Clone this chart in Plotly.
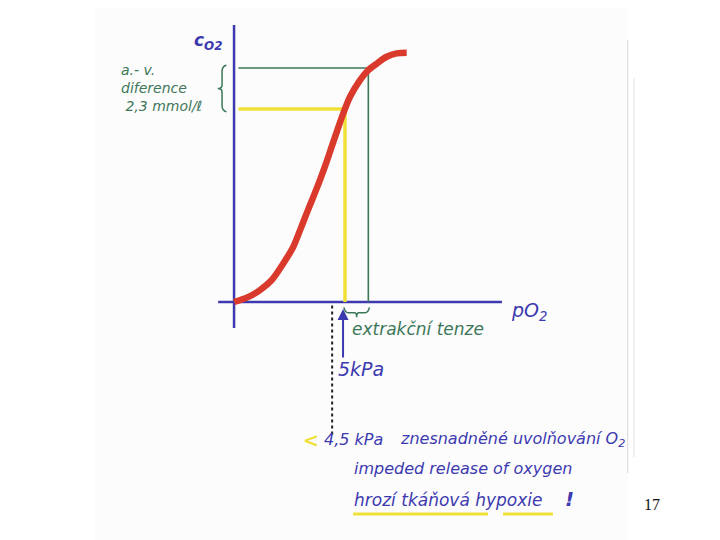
import plotly.graph_objects as go

# --- data (pO2 in kPa, cO2 in mmol/l) ---
curve_po2 = [0.0, 0.66, 1.19, 1.73, 2.26, 2.72, 3.03, 3.33, 3.64, 3.94, 4.22, 4.48, 4.74,
             5.01, 5.32, 5.78, 6.16, 6.55, 7.0, 7.46, 7.92]
curve_c = [0.0, 0.29, 0.67, 1.24, 2.17, 3.11, 4.04, 4.98, 5.92, 6.85, 7.79, 8.73, 9.66,
           10.6, 11.53, 12.47, 13.03, 13.4, 13.78, 13.97, 14.0]

po2_arterial = 6.16
po2_venous = 5.09
po2_limit = 4.5
po2_marker = 5.0
c_arterial = 13.15
c_venous = 10.84

BLUE = "#3d3ab0"
GREEN = "#3c7759"
RED = "#d93a2c"
YELLOW = "#f0e13a"
HAND = "DejaVu Sans"

fig = go.Figure()

# faint scanned page
fig.add_shape(type="rect", xref="x", yref="y", x0=-6.38, x1=18.04, y0=-14, y1=17,
              fillcolor="#fcfcfc", line=dict(width=0), layer="below")

# axes drawn by hand
fig.add_trace(go.Scatter(x=[0, 0], y=[-1.46, 15.56], mode="lines",
                         line=dict(color=BLUE, width=2.5), hoverinfo="skip"))
fig.add_trace(go.Scatter(x=[-0.73, 12.29], y=[0, 0], mode="lines",
                         line=dict(color=BLUE, width=2.5), hoverinfo="skip"))

# green (arterial) lines
fig.add_trace(go.Scatter(x=[0.2, po2_arterial, po2_arterial], y=[c_arterial, c_arterial, 0],
                         mode="lines", line=dict(color=GREEN, width=1.6), hoverinfo="skip"))
# yellow (venous) lines
fig.add_trace(go.Scatter(x=[0.2, po2_venous, po2_venous], y=[c_venous, c_venous, 0],
                         mode="lines", line=dict(color=YELLOW, width=3.5), hoverinfo="skip"))

# dissociation curve
fig.add_trace(go.Scatter(x=curve_po2, y=curve_c, mode="lines",
                         line=dict(color=RED, width=6.5, shape="spline", smoothing=0.8),
                         hoverinfo="skip"))

# dotted threshold line
fig.add_trace(go.Scatter(x=[po2_limit, po2_limit], y=[-0.2, -7.6], mode="lines",
                         line=dict(color="#222222", width=2, dash="dot"), hoverinfo="skip"))

# brace under x axis between venous and arterial pO2
xm = (po2_venous + po2_arterial) / 2
fig.add_shape(type="path", xref="x", yref="y",
              path=(f"M {po2_venous - 0.05},-0.3 Q {po2_venous},-0.6 {po2_venous + 0.15},-0.6 "
                    f"L {xm - 0.1},-0.6 Q {xm},-0.6 {xm},-0.85 Q {xm},-0.6 {xm + 0.1},-0.6 "
                    f"L {po2_arterial - 0.15},-0.6 Q {po2_arterial},-0.6 {po2_arterial + 0.05},-0.3"),
              line=dict(color=GREEN, width=1.5))

# brace left of y axis (a.-v. difference)
ym = (c_arterial + c_venous) / 2
fig.add_shape(type="path", xref="x", yref="y",
              path=(f"M -0.35,{c_arterial + 0.15} Q -0.55,{c_arterial + 0.1} -0.55,{c_arterial - 0.2} "
                    f"L -0.55,{ym + 0.2} Q -0.55,{ym} -0.75,{ym} Q -0.55,{ym} -0.55,{ym - 0.2} "
                    f"L -0.55,{c_venous + 0.2} Q -0.55,{c_venous - 0.1} -0.35,{c_venous - 0.15}"),
              line=dict(color=GREEN, width=1.5))

# page edge lines
fig.add_shape(type="line", xref="x", yref="y", x0=18.06, x1=18.06, y0=14.72, y1=-9.61,
              line=dict(color="#d8d8d8", width=1))
fig.add_shape(type="line", xref="x", yref="y", x0=18.35, x1=18.35, y0=12.58, y1=-8.71,
              line=dict(color="#e2e2e2", width=1))

# yellow underlines
for x0, x1 in [(5.46, 11.65), (12.34, 14.63)]:
    fig.add_shape(type="line", xref="x", yref="y", x0=x0, x1=x1, y0=-11.91, y1=-11.91,
                  line=dict(color=YELLOW, width=3))

# up arrow at 5 kPa
fig.add_annotation(x=po2_marker, y=-0.39, ax=po2_marker, ay=-3.2, xref="x", yref="y",
                   axref="x", ayref="y", text="", showarrow=True, arrowhead=2,
                   arrowsize=1.1, arrowwidth=2, arrowcolor=BLUE)


def note(x, y, text, color=BLUE, size=16, xanchor="left", family=HAND, italic=True,
         align="left"):
    t = f"<i>{text}</i>" if italic else text
    fig.add_annotation(x=x, y=y, xref="x", yref="y", text=t, showarrow=False,
                       xanchor=xanchor, yanchor="middle", align=align,
                       font=dict(family=family, size=size, color=color))


note(-1.95, 14.66, "<b>c<sub>O2</sub></b>", size=17)
note(-5.3, 12.0, "a.- v.<br>diference<br>&nbsp;2,3 mmol/ℓ", color=GREEN, size=14)
note(12.6, -0.56, "pO<sub>2</sub>", size=19)
note(5.3, -1.52, "extrakční tenze", color=GREEN, size=17)
note(4.68, -3.76, "5kPa", size=19)
note(3.97, -7.75, "<b>&lt;</b>", color=YELLOW, size=19, xanchor="right")
note(4.05, -7.75, "4,5 kPa", size=16)
note(7.5, -7.75, "znesnadněné uvolňování O<sub>2</sub>", size=16)
note(5.4, -9.33, "impeded release of oxygen", size=16)
note(5.4, -11.12, "hrozí tkáňová hypoxie", size=17)
note(15.1, -11.05, "<b>!</b>", size=20)
note(19.17, -11.4, "17", color="#111111", size=16, xanchor="center",
     family="Liberation Serif", italic=False)

fig.update_layout(
    width=720, height=540, margin=dict(l=0, r=0, t=0, b=0),
    showlegend=False, plot_bgcolor="white", paper_bgcolor="white",
    xaxis=dict(range=[-10.37, 22.66], visible=False, fixedrange=True),
    yaxis=dict(range=[-13.82, 16.52], visible=False, fixedrange=True),
)

fig.write_html("out.html")
